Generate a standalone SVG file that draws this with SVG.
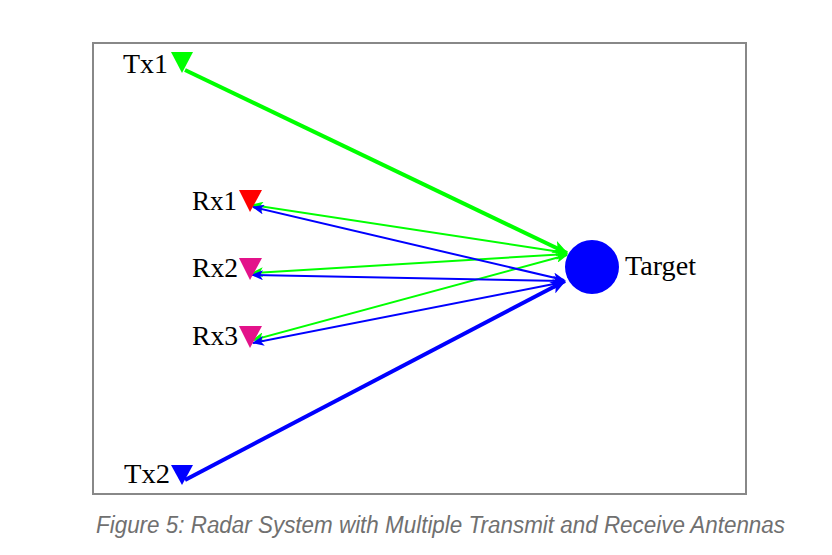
<svg xmlns="http://www.w3.org/2000/svg" width="832" height="555" viewBox="0 0 832 555">
<defs>
<style>
.lbl{font-family:"Liberation Serif","Times New Roman",serif;font-size:27px;fill:#000}
.cap{font-family:"Liberation Sans",Arial,sans-serif;font-size:23px;font-style:italic;fill:#707070}
.g{stroke:#00ff00;fill:none}
.b{stroke:#0000ff;fill:none}
</style>
<marker id="hg" viewBox="0 0 12 10" refX="11" refY="5" markerWidth="12" markerHeight="10" markerUnits="userSpaceOnUse" orient="auto-start-reverse"><path d="M0,0 L12,5 L0,10 L3,5 Z" fill="#00ff00"/></marker>
<marker id="hb" viewBox="0 0 12 10" refX="11" refY="5" markerWidth="12" markerHeight="10" markerUnits="userSpaceOnUse" orient="auto-start-reverse"><path d="M0,0 L12,5 L0,10 L3,5 Z" fill="#0000ff"/></marker>
<marker id="hgL" viewBox="0 0 12 10" refX="11" refY="5" markerWidth="16" markerHeight="13" markerUnits="userSpaceOnUse" orient="auto"><path d="M0,0 L12,5 L0,10 L3,5 Z" fill="#00ff00"/></marker>
<marker id="hbL" viewBox="0 0 12 10" refX="11" refY="5" markerWidth="16" markerHeight="13" markerUnits="userSpaceOnUse" orient="auto"><path d="M0,0 L12,5 L0,10 L3,5 Z" fill="#0000ff"/></marker>
</defs>
<rect x="0" y="0" width="832" height="555" fill="#fff"/>
<rect x="93" y="43" width="653" height="451" fill="none" stroke="#888" stroke-width="2"/>
<g id="connectors">
<line class="g" x1="185" y1="70" x2="567" y2="253" stroke-width="4" marker-end="url(#hgL)"/>
<line class="b" x1="185" y1="480" x2="565" y2="281" stroke-width="4" marker-end="url(#hbL)"/>
<line class="g" x1="252" y1="205" x2="567" y2="253" stroke-width="2" marker-start="url(#hg)" marker-end="url(#hg)"/>
<line class="g" x1="252" y1="273" x2="567" y2="254" stroke-width="2" marker-start="url(#hg)" marker-end="url(#hg)"/>
<line class="g" x1="253" y1="340" x2="567" y2="255" stroke-width="2" marker-start="url(#hg)" marker-end="url(#hg)"/>
<line class="b" x1="253" y1="207" x2="564" y2="280" stroke-width="2" marker-start="url(#hb)" marker-end="url(#hb)"/>
<line class="b" x1="252" y1="275" x2="564" y2="281" stroke-width="2" marker-start="url(#hb)" marker-end="url(#hb)"/>
<line class="b" x1="253" y1="343" x2="564" y2="282" stroke-width="2" marker-start="url(#hb)" marker-end="url(#hb)"/>
</g>
<g id="tx1"><polygon points="171,52 193,52 182,73" fill="#00ff00"/><text class="lbl" x="123" y="73" textLength="45" lengthAdjust="spacingAndGlyphs">Tx1</text></g>
<g id="rx1"><polygon points="239,190 262,190 250,212" fill="#ff0000"/><text class="lbl" x="192" y="210" textLength="45" lengthAdjust="spacingAndGlyphs">Rx1</text></g>
<g id="rx2"><polygon points="239,258 262,258 250,280" fill="#e3128a"/><text class="lbl" x="192" y="277" textLength="46" lengthAdjust="spacingAndGlyphs">Rx2</text></g>
<g id="rx3"><polygon points="239,326 262,326 250,348" fill="#e3128a"/><text class="lbl" x="192" y="345" textLength="46" lengthAdjust="spacingAndGlyphs">Rx3</text></g>
<g id="tx2"><polygon points="171,465 193,465 182,485" fill="#0000ff"/><text class="lbl" x="124" y="483" textLength="46" lengthAdjust="spacingAndGlyphs">Tx2</text></g>
<g id="target"><circle cx="592" cy="267" r="27" fill="#0000ff"/><text class="lbl" x="625" y="275" textLength="71" lengthAdjust="spacingAndGlyphs">Target</text></g>
<text class="cap" x="96" y="533" textLength="689" lengthAdjust="spacingAndGlyphs">Figure 5: Radar System with Multiple Transmit and Receive Antennas</text>
</svg>
